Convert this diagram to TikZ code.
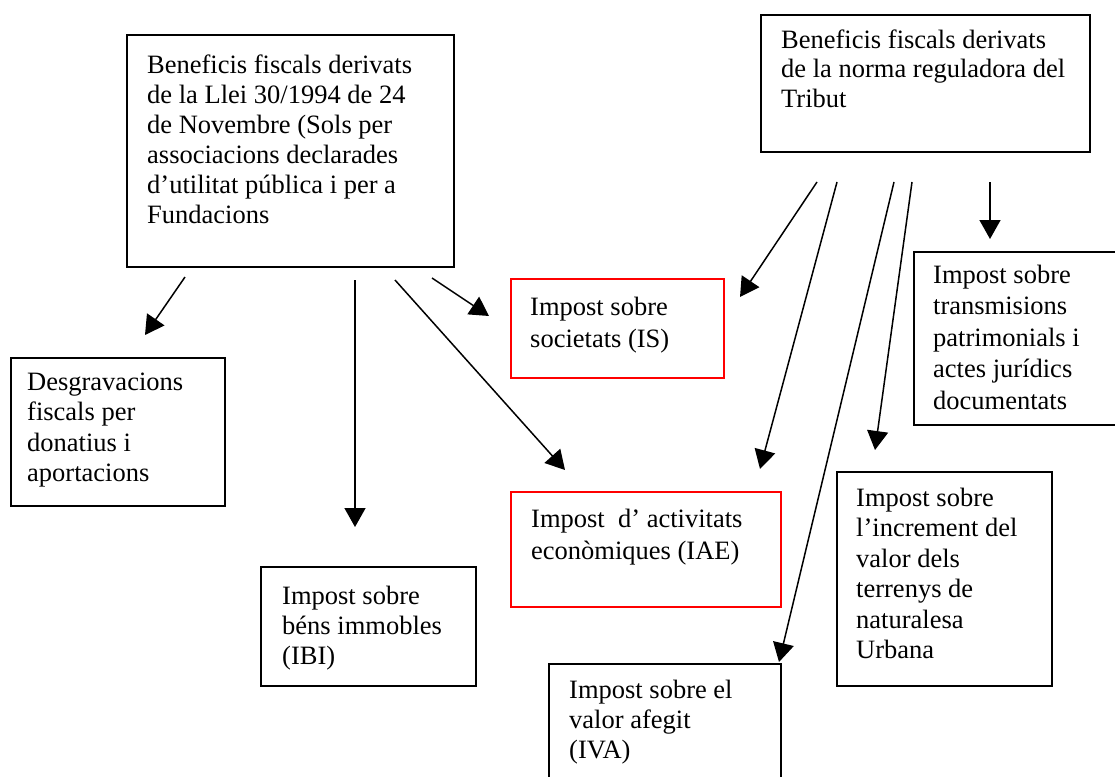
\documentclass[tikz,border=0pt]{standalone}
\usepackage{fontspec}
\setmainfont{Liberation Serif}
\usetikzlibrary{arrows.meta}
\tikzset{
  box/.style={draw=black, line width=1.7pt, inner sep=0pt},
  redbox/.style={draw=red, line width=1.7pt, inner sep=0pt},
  txt/.style={font=\fontsize{26.5}{#1}\selectfont, align=left, inner sep=0pt, anchor=north west},
  arr/.style={line width=1.5pt, -{Triangle[length=19pt,width=21pt]}}
}
\begin{document}
\begin{tikzpicture}[x=1pt,y=-1pt]
\useasboundingbox (0,0) rectangle (1115,776);
% boxes
\node[box, minimum width=327pt, minimum height=232pt, anchor=north west] (lleiBox) at (126,34) {};
\node[box, minimum width=329pt, minimum height=137pt, anchor=north west] (normaBox) at (760,14) {};
\node[box, minimum width=214pt, minimum height=148pt, anchor=north west] (desgBox) at (10,357) {};
\node[redbox, minimum width=213pt, minimum height=99pt, anchor=north west] (isBox) at (510,278) {};
\node[box, minimum width=207pt, minimum height=173pt, anchor=north west] (transBox) at (913,251) {};
\node[redbox, minimum width=270pt, minimum height=115pt, anchor=north west] (iaeBox) at (510,491) {};
\node[box, minimum width=215pt, minimum height=214pt, anchor=north west] (incrBox) at (836,471) {};
\node[box, minimum width=215pt, minimum height=119pt, anchor=north west] (ibiBox) at (260,566) {};
\node[box, minimum width=232pt, minimum height=117pt, anchor=north west] (ivaBox) at (548,663) {};
% texts
\node[txt=30pt] (lleiTxt) at (147,53) {\rule{0pt}{20pt}Beneficis fiscals derivats\\de la Llei 30/1994 de 24\\de Novembre (Sols per\\associacions declarades\\d’utilitat pública i per a\\Fundacions};
\node[txt=29.5pt] (normaTxt) at (781,28) {\rule{0pt}{20pt}Beneficis fiscals derivats\\de la norma reguladora del\\Tribut};
\node[txt=30.5pt] (desgTxt) at (27,370) {\rule{0pt}{20pt}Desgravacions\\fiscals per\\donatius i\\aportacions};
\node[txt=32pt] (isTxt) at (530,295) {\rule{0pt}{20pt}Impost sobre\\societats (IS)};
\node[txt=31.5pt] (transTxt) at (933,263) {\rule{0pt}{20pt}Impost sobre\\transmisions\\patrimonials i\\actes jurídics\\documentats};
\node[txt=32pt] (iaeTxt) at (531,507) {\rule{0pt}{20pt}Impost~~d’ activitats\\econòmiques (IAE)};
\node[txt=30.5pt] (incrTxt) at (856,486) {\rule{0pt}{20pt}Impost sobre\\l’increment del\\valor dels\\terrenys de\\naturalesa\\Urbana};
\node[txt=30pt] (ibiTxt) at (282,584) {\rule{0pt}{20pt}Impost sobre\\béns immobles\\(IBI)};
\node[txt=30pt] (ivaTxt) at (569,678) {\rule{0pt}{20pt}Impost sobre el\\valor afegit\\(IVA)};
% connector end points
\coordinate (s1) at (185,277); \coordinate (e1) at (145,335);
\coordinate (s2) at (355,280); \coordinate (e2) at (355,527);
\coordinate (s3) at (432,278); \coordinate (e3) at (489,316);
\coordinate (s4) at (395,280); \coordinate (e4) at (565,470);
\coordinate (s5) at (817,182); \coordinate (e5) at (740,297);
\coordinate (s6) at (837,182); \coordinate (e6) at (760,469);
\coordinate (s7) at (894,182); \coordinate (e7) at (779,662);
\coordinate (s8) at (912,182); \coordinate (e8) at (875,450);
\coordinate (s9) at (990,182); \coordinate (e9) at (990,239);
\draw[arr] (s1) -- (e1);
\draw[arr] (s2) -- (e2);
\draw[arr] (s3) -- (e3);
\draw[arr] (s4) -- (e4);
\draw[arr] (s5) -- (e5);
\draw[arr] (s6) -- (e6);
\draw[arr] (s7) -- (e7);
\draw[arr] (s8) -- (e8);
\draw[arr] (s9) -- (e9);
\end{tikzpicture}
\end{document}
